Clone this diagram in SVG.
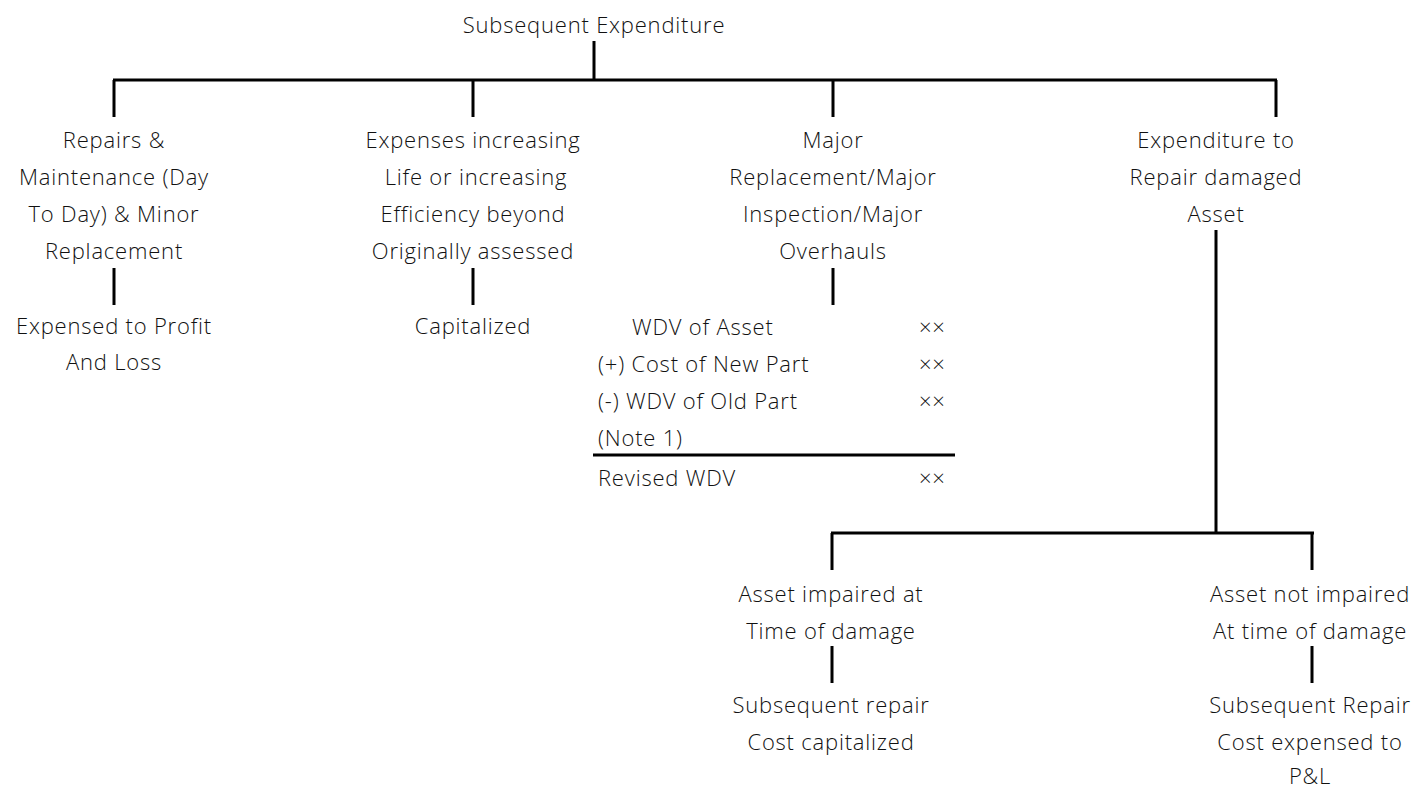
<svg xmlns="http://www.w3.org/2000/svg" width="1414" height="789" viewBox="0 0 1414 789">
  <style>
    text { font-family: "Open Sans", "Noto Sans", "Liberation Sans", sans-serif; font-weight: 300; font-size: 22px; letter-spacing: 0.8px; fill: #111; }
    .c { text-anchor: middle; }
    .r { text-anchor: start; }
    .ln { stroke: #000; stroke-width: 3; fill: none; stroke-linecap: butt; }
  </style>
  <rect width="1414" height="789" fill="#fff"/>

  <g id="connectors">
    <path class="ln" d="M594 41 V80 M113 80 H1277 M114 80 V117 M473 80 V117 M833 80 V117 M1276 80 V117"/>
    <path class="ln" d="M114 268 V305 M473 268 V305 M833 268 V305"/>
    <path class="ln" d="M1216 230 V533 M831 533 H1314 M832 533 V570 M1312 533 V570"/>
    <path class="ln" d="M832 646 V683 M1312 646 V683"/>
  </g>

  <g id="root">
    <text class="c" x="594" y="33">Subsequent Expenditure</text>
  </g>

  <g id="repairs">
    <text class="c" x="114" y="148">Repairs &amp;</text>
    <text class="c" x="114" y="185">Maintenance (Day</text>
    <text class="c" x="114" y="222">To Day) &amp; Minor</text>
    <text class="c" x="114" y="259">Replacement</text>
  </g>
  <g id="expensed">
    <text class="c" x="114" y="334">Expensed to Profit</text>
    <text class="c" x="114" y="370">And Loss</text>
  </g>

  <g id="efficiency">
    <text class="c" x="473" y="148">Expenses increasing</text>
    <text class="c" x="476" y="185">Life or increasing</text>
    <text class="c" x="473" y="222">Efficiency beyond</text>
    <text class="c" x="473" y="259">Originally assessed</text>
  </g>
  <g id="capitalized">
    <text class="c" x="473" y="334">Capitalized</text>
  </g>

  <g id="major">
    <text class="c" x="833" y="148">Major</text>
    <text class="c" x="833" y="185">Replacement/Major</text>
    <text class="c" x="833" y="222">Inspection/Major</text>
    <text class="c" x="833" y="259">Overhauls</text>
  </g>
  <g id="wdv-table">
    <text class="r" x="632" y="335">WDV of Asset</text>
    <text class="r" x="598" y="372">(+) Cost of New Part</text>
    <text class="r" x="598" y="409">(-) WDV of Old Part</text>
    <text class="r" x="598" y="446">(Note 1)</text>
    <text class="r" x="598" y="486">Revised WDV</text>
    <text class="r" x="919" y="335">××</text>
    <text class="r" x="919" y="372">××</text>
    <text class="r" x="919" y="409">××</text>
    <text class="r" x="919" y="486">××</text>
    <path class="ln" d="M593 455 H955"/>
  </g>

  <g id="damaged">
    <text class="c" x="1216" y="148">Expenditure to</text>
    <text class="c" x="1216" y="185">Repair damaged</text>
    <text class="c" x="1216" y="222">Asset</text>
  </g>

  <g id="impaired">
    <text class="c" x="831" y="602">Asset impaired at</text>
    <text class="c" x="831" y="639">Time of damage</text>
  </g>
  <g id="repair-capitalized">
    <text class="c" x="831" y="713">Subsequent repair</text>
    <text class="c" x="831" y="750">Cost capitalized</text>
  </g>

  <g id="not-impaired">
    <text class="c" x="1310" y="602">Asset not impaired</text>
    <text class="c" x="1310" y="639">At time of damage</text>
  </g>
  <g id="repair-expensed">
    <text class="c" x="1310" y="713">Subsequent Repair</text>
    <text class="c" x="1310" y="750">Cost expensed to</text>
    <text class="c" x="1310" y="784">P&amp;L</text>
  </g>
</svg>
